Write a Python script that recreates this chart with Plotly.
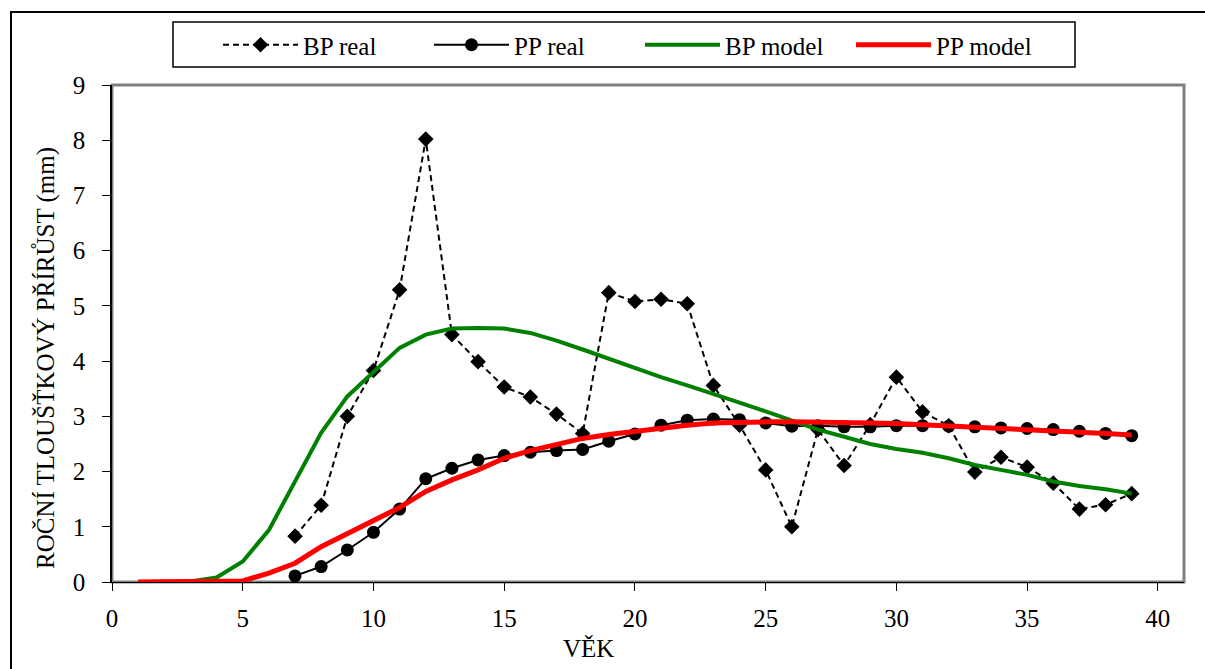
import plotly.graph_objects as go

# Ages (years)
age_real = list(range(7, 40))
age_model = list(range(1, 40))

# Measured annual diameter increment (mm)
bp_real = [0.83, 1.39, 3.00, 3.83, 5.29, 8.02, 4.48, 3.99, 3.53, 3.35, 3.04, 2.69,
           5.24, 5.08, 5.12, 5.04, 3.56, 2.84, 2.03, 1.00, 2.76, 2.11, 2.85, 3.71,
           3.08, 2.83, 1.99, 2.26, 2.08, 1.79, 1.32, 1.40, 1.60]
pp_real = [0.11, 0.28, 0.58, 0.90, 1.32, 1.87, 2.06, 2.21, 2.29, 2.35, 2.38, 2.40,
           2.55, 2.68, 2.84, 2.93, 2.95, 2.94, 2.88, 2.82, 2.83, 2.81, 2.81, 2.83,
           2.83, 2.82, 2.81, 2.79, 2.78, 2.76, 2.73, 2.69, 2.65]

# Modelled annual diameter increment (mm)
bp_model = [0.00, 0.00, 0.01, 0.08, 0.37, 0.94, 1.82, 2.70, 3.36, 3.80, 4.24, 4.48,
            4.59, 4.60, 4.59, 4.51, 4.37, 4.21, 4.04, 3.88, 3.71, 3.56, 3.41, 3.25,
            3.09, 2.93, 2.76, 2.63, 2.50, 2.41, 2.34, 2.24, 2.12, 2.03, 1.94, 1.82,
            1.74, 1.68, 1.60]
pp_model = [0.00, 0.00, 0.00, 0.00, 0.02, 0.16, 0.34, 0.64, 0.88, 1.11, 1.35, 1.64,
            1.85, 2.03, 2.24, 2.38, 2.50, 2.60, 2.67, 2.73, 2.79, 2.84, 2.88, 2.90,
            2.90, 2.90, 2.90, 2.90, 2.88, 2.87, 2.85, 2.82, 2.81, 2.79, 2.76, 2.74,
            2.71, 2.69, 2.66]

x_ticks = [0, 5, 10, 15, 20, 25, 30, 35, 40]
y_ticks = [0, 1, 2, 3, 4, 5, 6, 7, 8, 9]

FONT = "Liberation Serif, Times New Roman, serif"
W, H = 1205, 669
L, R, T, B = 112, 21, 85, 87
PW, PH = W - L - R, H - T - B


def px(xp):
    return (xp - L) / PW


def py(yp):
    return (H - B - yp) / PH


fig = go.Figure()
fig.add_trace(go.Scatter(
    x=age_real, y=bp_real, name="BP real", mode="lines+markers",
    line=dict(color="black", width=2, dash="6px,4px"),
    marker=dict(symbol="diamond", size=12, color="black")))
fig.add_trace(go.Scatter(
    x=age_real, y=pp_real, name="PP real", mode="lines+markers",
    line=dict(color="black", width=2),
    marker=dict(symbol="circle", size=13, color="black")))
fig.add_trace(go.Scatter(
    x=age_model, y=bp_model, name="BP model", mode="lines",
    line=dict(color="#008000", width=4)))
fig.add_trace(go.Scatter(
    x=age_model, y=pp_model, name="PP model", mode="lines",
    line=dict(color="#FF0000", width=5)))

shapes = [
    # plot area border
    dict(type="rect", xref="paper", yref="paper", x0=0, x1=1, y0=0, y1=1,
         line=dict(color="#808080", width=3), layer="below"),
    # legend frame
    dict(type="rect", xref="paper", yref="paper",
         x0=px(173), x1=px(1075), y0=py(67), y1=py(22),
         line=dict(color="black", width=1.5)),
    # outer chart frame
    dict(type="rect", xref="paper", yref="paper",
         x0=px(11), x1=px(1210), y0=py(675), y1=py(12),
         line=dict(color="black", width=2)),
]

annotations = [
    dict(text="ROČNÍ TLOUŠŤKOVÝ PŘÍRŮST (mm)", textangle=-90,
         xref="paper", yref="paper", x=px(46), y=py(358),
         xanchor="center", yanchor="middle",
         showarrow=False, font=dict(family=FONT, size=25, color="black")),
    dict(text="VĚK", xref="paper", yref="paper", x=px(588), y=py(648),
         xanchor="center", yanchor="middle",
         showarrow=False, font=dict(family=FONT, size=25, color="black")),
]

fig.update_layout(
    width=W, height=H,
    margin=dict(l=L, r=R, t=T, b=B, pad=0),
    paper_bgcolor="white", plot_bgcolor="white",
    font=dict(family=FONT, size=24, color="black"),
    showlegend=True,
    legend=dict(orientation="h", x=px(218), xanchor="left",
                y=py(45), yanchor="middle",
                font=dict(family=FONT, size=25, color="black"),
                bgcolor="rgba(0,0,0,0)", borderwidth=0,
                entrywidth=121, entrywidthmode="pixels", itemwidth=75),
    shapes=shapes,
    annotations=annotations,
)
fig.update_xaxes(range=[0, 41], tickvals=x_ticks, ticks="outside", ticklen=8,
                 tickcolor="black", tickwidth=1, showgrid=False, zeroline=False,
                 showline=True, linecolor="black", linewidth=1,
                 tickfont=dict(family=FONT, size=25), ticklabelstandoff=6)
fig.update_yaxes(range=[0, 9], tickvals=y_ticks, ticks="outside", ticklen=8,
                 tickcolor="black", tickwidth=1, showgrid=False, zeroline=False,
                 showline=True, linecolor="black", linewidth=1.5,
                 tickfont=dict(family=FONT, size=25), ticklabelstandoff=12)

fig.write_html("out.html")
